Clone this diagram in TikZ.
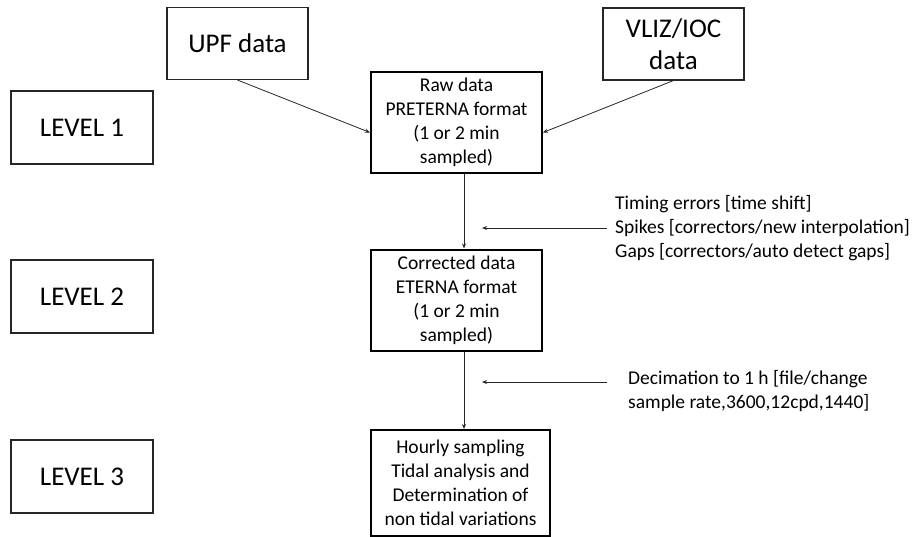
\documentclass[tikz,border=0pt]{standalone}
\usepackage{fontspec}
\setmainfont{Carlito}
\usepackage{tikz}
\usetikzlibrary{arrows.meta,positioning}

\tikzset{
  levelbox/.style={rectangle, draw=black!85, line width=1.1pt, fill=white, minimum width=142pt, minimum height=73pt, inner sep=0pt, font=\fontsize{27}{32}\selectfont},
  srcbox/.style={rectangle, draw=black!85, line width=1.1pt, fill=white, minimum width=141pt, minimum height=72pt, inner sep=0pt, align=center, font=\fontsize{27}{32}\selectfont},
  databox/.style={rectangle, draw=black, line width=2pt, fill=white, minimum width=171pt, minimum height=101pt, inner sep=0pt, align=center, font=\fontsize{19.5}{24}\selectfont},
  note/.style={inner sep=0pt, align=left, font=\fontsize{19.5}{24}\selectfont},
  flow/.style={-{Stealth[length=5pt,width=4pt]}, draw=black!85, line width=0.8pt},
}

\begin{document}
\begin{tikzpicture}[x=1pt, y=-1pt]
  \useasboundingbox (0,0) rectangle (921,536);
  %nodes
  \node at (82, 127.5) [levelbox] (level1) {LEVEL 1};
  \node at (82, 296.5) [levelbox] (level2) {LEVEL 2};
  \node at (82, 476.5) [levelbox] (level3) {LEVEL 3};

  \node at (237.5, 43.5) [srcbox] (upf) {UPF data};
  \node at (673.5, 44) [srcbox] (vliz) {VLIZ/IOC\\data};

  \node at (456.5, 122.5) [databox] (raw) {Raw data\\PRETERNA format\\(1 or 2 min\\sampled)};
  \node at (456.5, 300) [databox] (corrected) {Corrected data\\ETERNA format\\(1 or 2 min\\sampled)};
  \node at (460.5, 483) [databox, minimum width=179pt, minimum height=106pt] (hourly) {Hourly sampling\\Tidal analysis and\\Determination of\\non tidal variations};

  \node at (615, 228) [note, anchor=west] (fixes) {Timing errors [time shift]\\Spikes [correctors/new interpolation]\\Gaps [correctors/auto detect gaps]};
  \node at (628, 370) [note, anchor=north west] (decim) {Decimation to 1 h [file/change\\sample rate,3600,12cpd,1440]};

  \coordinate (fixtip) at (482, 228);
  \coordinate (decimtip) at (482, 382);

  %connectors
  \draw[flow] (upf.south) -- ([yshift=-10pt]raw.west);
  \draw[flow] (vliz.south) -- ([yshift=-10pt]raw.east);
  \draw[flow] ([xshift=7.5pt]raw.south) -- ([xshift=7.5pt]corrected.north);
  \draw[flow] ([xshift=7.5pt]corrected.south) -- ([xshift=3.5pt]hourly.north);
  \draw[flow] ([xshift=-8pt]fixes.west) -- (fixtip);
  \draw[flow] ([xshift=-21pt, yshift=-12pt]decim.north west) -- (decimtip);
\end{tikzpicture}
\end{document}
